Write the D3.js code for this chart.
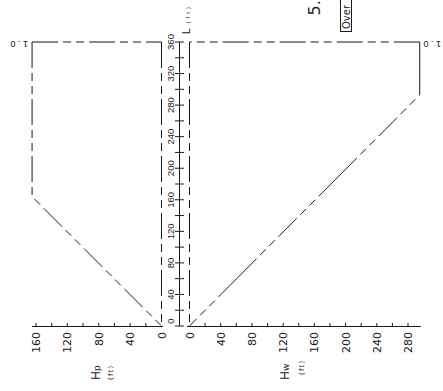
<!DOCTYPE html>
<html><head><meta charset="utf-8">
<script src="https://cdn.jsdelivr.net/npm/d3@7"></script>
<style>html,body{margin:0;padding:0;background:#fff;overflow:hidden}</style>
</head><body>
<script>
// ---- data ----
const lTicksMajor = [0,40,80,120,160,200,240,280,320,360];
const lTicksMinor = [0,20,40,60,80,100,120,140,160,180,200,220,240,260,280,300,320,340,360];
const hpTicksMajor = [0,40,80,120,160];
const hpTicksMinor = [0,20,40,60,80,100,120,140,160];
const hwTicksMajor = [0,40,80,120,160,200,240,280];
const hwTicksMinor = [0,20,40,60,80,100,120,140,160,180,200,220,240,260,280];
// left profile: Hp vs L
const pierL  = [0, 164, 360];
const pierHp = [0, 165, 165];
// right profile: Hw vs L
const wallL  = [0, 293, 360];
const wallHw = [0, 295, 295];
const ratioLabel = "1.0";

const W = 443, H = 391;
const svg = d3.select("body").append("svg").attr("width", W).attr("height", H);

const yL  = d3.scaleLinear().domain([0,360]).range([326,42]);
const xHp = d3.scaleLinear().domain([0,160]).range([161.5,36]);
const xHw = d3.scaleLinear().domain([0,280]).range([189.5,408]);

const ink = "#1a1a1a";
const dash = "26,5,8,5,8,5";

function seg(x1,y1,x2,y2,da){
  svg.append("line").attr("x1",x1).attr("y1",y1).attr("x2",x2).attr("y2",y2)
    .attr("stroke",ink).attr("stroke-width",1).attr("stroke-dasharray",da||null);
}

// ---- left profile ----
const hpMax = d3.max(pierHp), wMax = d3.max(wallHw);
const leftPts = pierL.map((l,i)=>[xHp(pierHp[i]), yL(l)]).reverse();
svg.append("path").attr("d", d3.line()(leftPts)).attr("fill","none")
  .attr("stroke",ink).attr("stroke-width",1).attr("stroke-dasharray",dash);
seg(xHp(hpMax), yL(360), xHp(0), yL(360), dash);
seg(xHp(0), yL(360), xHp(0), yL(0), dash);

// ---- right profile ----
const rightPts = wallL.map((l,i)=>[xHw(wallHw[i]), yL(l)]).reverse();
svg.append("path").attr("d", d3.line()(rightPts)).attr("fill","none")
  .attr("stroke",ink).attr("stroke-width",1).attr("stroke-dasharray","54,5,8,5,8,5,26,5,8,5,8,5");
seg(xHw(wMax), yL(360), xHw(0), yL(360), dash);
seg(xHw(0), yL(360), xHw(0), yL(0), dash);

// ---- L axis ----
const xAx = 179.5;
seg(xAx, yL(360), xAx, yL(0));
lTicksMinor.forEach(v=>seg(xAx-4.5, yL(v), xAx+4.5, yL(v)));
svg.selectAll(".ll").data(lTicksMajor).enter().append("text")
  .attr("transform", d=>`translate(173.5,${yL(d) - (d===0?5:0)}) rotate(-90)`)
  .attr("text-anchor","middle").attr("font-family","Liberation Sans").attr("font-size",9.5)
  .attr("fill",ink).text(d=>d);
const lt = svg.append("text").attr("transform","translate(190,34) rotate(-90)")
  .attr("font-family","Liberation Sans").attr("fill",ink);
lt.append("tspan").attr("font-size",10).text("L");
lt.append("tspan").attr("font-size",6).attr("dx",5).attr("letter-spacing",3).text("(ft)");

// ---- bottom axes ----
const yB = 326.5;
seg(xHp(hpMax), yB, xHp(0)+1.5, yB);
seg(xHw(0)-2.5, yB, xHw(wMax)+1, yB);
hpTicksMinor.forEach(v=>{ if(v>0) seg(xHp(v), yB, xHp(v), yB-3.5); });
hwTicksMinor.forEach(v=>{ if(v>0) seg(xHw(v), yB, xHw(v), yB-3.5); });
function bl(scale, data){
  svg.append("g").selectAll("text").data(data).enter().append("text")
    .attr("transform", d=>`translate(${scale(d)+4},332) rotate(-90)`)
    .attr("text-anchor","end").attr("font-family","DejaVu Sans").attr("font-size",11)
    .attr("fill",ink).text(d=>d);
}
bl(xHp, hpTicksMajor);
bl(xHw, hwTicksMajor);

function title(x, y, main, sub, unitX, unitY){
  const t = svg.append("text").attr("transform",`translate(${x},${y}) rotate(-90)`)
    .attr("font-family","DejaVu Sans").attr("fill",ink);
  t.append("tspan").attr("font-size",12).text(main);
  t.append("tspan").attr("font-size",9).text(sub);
  svg.append("text").attr("transform",`translate(${unitX},${unitY}) rotate(-90)`)
    .attr("font-family","DejaVu Sans").attr("font-size",7).attr("letter-spacing",1.2)
    .attr("fill",ink).text("(ft)");
}
title(100, 380, "H", "p", 113, 380);
title(289, 380, "H", "w", 304, 375);

// ---- ratio labels (upside down) ----
[[28, 41],[441, 41]].forEach(p=>{
  svg.append("text").attr("transform",`translate(${p[0]},${p[1]}) rotate(180)`)
    .attr("font-family","Liberation Sans").attr("font-size",9).attr("letter-spacing",2.5)
    .attr("fill",ink).text(ratioLabel);
});

// ---- top right heading bits ----
svg.append("text").attr("transform","translate(320,15.5) rotate(-90)")
  .attr("font-family","DejaVu Sans").attr("font-size",16).attr("fill",ink).text("5.");
svg.append("rect").attr("x",340.5).attr("y",-5).attr("width",11).attr("height",36.5)
  .attr("fill","none").attr("stroke",ink).attr("stroke-width",1);
svg.append("text").attr("transform","translate(349.5,29) rotate(-90)")
  .attr("font-family","DejaVu Sans").attr("font-size",10)
  .attr("fill",ink).text("Over");
</script>
</body></html>
